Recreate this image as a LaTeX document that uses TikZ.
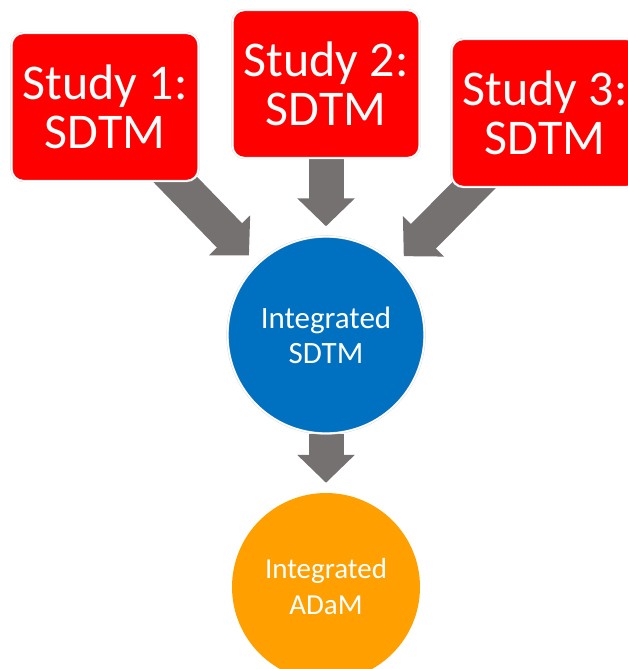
\documentclass[tikz,border=0pt]{standalone}
\usepackage{fontspec}
\setmainfont{Carlito}
\usetikzlibrary{arrows.meta, backgrounds}
\definecolor{SRed}{HTML}{FF0000}
\definecolor{SBlue}{HTML}{0070C0}
\definecolor{SOrange}{HTML}{FFA000}
\definecolor{SGray}{HTML}{767171}

\begin{document}
\begin{tikzpicture}[x=1pt, y=-1pt]
  % --- GEOMETRIC VARIABLES ---
  \def\ShaftWidth{35pt}
  \def\HeadWidth{56pt}
  \def\HeadLength{28pt}

  \tikzset{
    studybox/.style={rectangle, rounded corners=12pt, fill=SRed, text=white,
      draw=black!15, double=white, double distance=1.5pt, line width=0.4pt,
      minimum width=187pt, minimum height=148pt, align=center,
      font=\fontsize{50}{49}\selectfont},
    bigarrow/.style={draw=SGray, line width=\ShaftWidth,
      -{Triangle[width=\HeadWidth, length=\HeadLength]}}
  }

  \useasboundingbox (0,0) rectangle (628,669);

  % =====================================================================
  % 1. STUDY BOXES (Top Row)
  % =====================================================================
  \node[studybox] (st1) at (105,107) {Study 1:\\SDTM};
  \node[studybox] (st2) at (326,84) {Study 2:\\SDTM};
  \node[studybox] (st3) at (545,113) {Study 3:\\SDTM};

  % =====================================================================
  % 2. INTEGRATED DATA (Circles)
  % =====================================================================
  \node[circle, fill=SBlue, text=white, draw=black!15, double=white,
    double distance=1.5pt, line width=0.4pt, minimum size=197pt, align=center,
    font=\fontsize{31}{35}\selectfont] (sdtm) at (326,335) {Integrated\\SDTM};
  \node[circle, fill=SOrange, text=white, minimum size=188pt, align=center,
    font=\fontsize{29}{36}\selectfont] (adam) at (326,587) {Integrated\\ADaM};

  % =====================================================================
  % 3. ARROWS (Behind the boxes)
  % =====================================================================
  \begin{scope}[on background layer]
    \draw[bigarrow, shorten <=-25pt, shorten >=12pt] (st1) -- (sdtm);
    \draw[bigarrow, shorten >=10pt] (st2) -- (sdtm);
    \draw[bigarrow, shorten <=-25pt, shorten >=12pt] (st3) -- (sdtm);
    \draw[bigarrow, shorten >=10pt] (sdtm) -- (adam);
  \end{scope}

\end{tikzpicture}
\end{document}
